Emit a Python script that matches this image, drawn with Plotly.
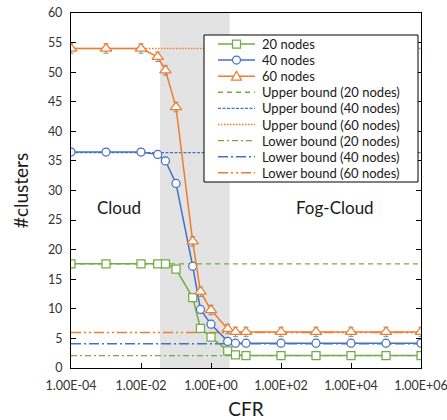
import plotly.graph_objects as go

# ---- data ----
CFR = [1e-4, 1e-3, 1e-2, 0.03, 0.05, 0.1, 0.3, 0.5, 1, 3, 5, 10, 1e2, 1e3, 1e4, 1e5, 1e6]
NODES_20 = [17.6, 17.6, 17.6, 17.6, 17.6, 16.7, 11.9, 6.7, 5.2, 2.9, 2.2, 2.1, 2.1, 2.1, 2.1, 2.1, 2.1]
NODES_40 = [36.5, 36.5, 36.5, 36.1, 35.0, 31.2, 17.2, 9.9, 7.4, 4.5, 4.2, 4.2, 4.2, 4.2, 4.2, 4.2, 4.2]
NODES_60 = [54.0, 54.0, 54.0, 52.6, 50.3, 44.1, 21.4, 12.9, 9.8, 6.6, 6.1, 6.1, 6.1, 6.1, 6.1, 6.1, 6.1]
ERR_20 = [0.2] * 17
ERR_40 = [0.6] * 17
ERR_60 = [0.8] * 17
UPPER = {"20": 17.6, "40": 36.4, "60": 54.0}
LOWER = {"20": 2.1, "40": 4.1, "60": 6.0}
BOUND_X = [1e-4, 1e6]
SHADE_X = [0.035, 3.4]
Y_RANGE = [0, 60]
XTICK_VALS = [1e-4, 1e-2, 1, 1e2, 1e4, 1e6]
XTICK_TEXT = ["1.00E-04", "1.00E-02", "1.00E+00", "1.00E+02", "1.00E+04", "1.00E+06"]
LEGEND_LABELS = ["20 nodes", "40 nodes", "60 nodes",
                 "Upper bound (20 nodes)", "Upper bound (40 nodes)", "Upper bound (60 nodes)",
                 "Lower bound (20 nodes)", "Lower bound (40 nodes)", "Lower bound (60 nodes)"]

GREEN = "#70AD47"
BLUE = "#4472C4"
ORANGE = "#ED7D31"
FONT = "Lato"
TXT = "#1a1a1a"

# plot-area geometry (pixels)
L, R, T, B = 71, 421, 13, 368
W_FIG, H_FIG = 447, 420
PW, PH = R - L, B - T


def px(xp):
    return (xp - L) / PW


def py(yp):
    return (B - yp) / PH


fig = go.Figure()

# shaded transition region
fig.add_trace(go.Scatter(
    x=[SHADE_X[0], SHADE_X[1], SHADE_X[1], SHADE_X[0]],
    y=[Y_RANGE[0], Y_RANGE[0], Y_RANGE[1], Y_RANGE[1]],
    fill="toself", fillcolor="#E3E3E3", line=dict(width=0),
    mode="lines", showlegend=False, hoverinfo="skip"))

colors = {"20": GREEN, "40": BLUE, "60": ORANGE}
upper_dash = {"20": "5px,4px", "40": "3px,1.5px", "60": "1.5px,1.5px"}
lower_dash = {"20": "6px,3px,2px,3px", "40": "10px,3px,2px,3px", "60": "10px,3px,2px,3px,2px,3px"}

for n in ["20", "40", "60"]:
    fig.add_trace(go.Scatter(
        x=BOUND_X, y=[UPPER[n]] * 2, mode="lines", name=f"Upper bound ({n} nodes)",
        line=dict(color=colors[n], width=1.4, dash=upper_dash[n])))
for n in ["20", "40", "60"]:
    fig.add_trace(go.Scatter(
        x=BOUND_X, y=[LOWER[n]] * 2, mode="lines", name=f"Lower bound ({n} nodes)",
        line=dict(color=colors[n], width=1.4, dash=lower_dash[n])))

series = [("20 nodes", NODES_20, ERR_20, GREEN, "square", 8),
          ("40 nodes", NODES_40, ERR_40, BLUE, "circle", 8),
          ("60 nodes", NODES_60, ERR_60, ORANGE, "triangle-up", 10)]
for name, ys, err, col, sym, size in series:
    fig.add_trace(go.Scatter(
        x=CFR, y=ys, name=name, mode="lines+markers",
        line=dict(color=col, width=1.5),
        marker=dict(symbol=sym, size=size, color="white", line=dict(color=col, width=1.25)),
        error_y=dict(type="data", array=err, visible=True, color="#8C8C8C", thickness=1, width=2.5)))

# ---- legend box drawn as shapes / annotations ----
shapes = [dict(type="rect", xref="paper", yref="paper", layer="above",
               x0=px(204), x1=px(418), y0=py(182), y1=py(35),
               line=dict(color="black", width=1), fillcolor="white")]
annos = []
row_col = [GREEN, BLUE, ORANGE, GREEN, BLUE, ORANGE, GREEN, BLUE, ORANGE]
row_dash = ["solid", "solid", "solid",
            upper_dash["20"], upper_dash["40"], upper_dash["60"],
            lower_dash["20"], lower_dash["40"], lower_dash["60"]]
x_a, x_b, x_m = 218, 255, 236.5
for i, lab in enumerate(LEGEND_LABELS):
    yc = 44 + i * 16.1
    shapes.append(dict(type="line", xref="paper", yref="paper", layer="above",
                       x0=px(x_a), x1=px(x_b), y0=py(yc), y1=py(yc),
                       line=dict(color=row_col[i], width=1.5 if i < 3 else 1.4, dash=row_dash[i])))
    if i == 0:
        shapes.append(dict(type="rect", xref="paper", yref="paper", layer="above",
                           x0=px(x_m - 4), x1=px(x_m + 4), y0=py(yc + 4), y1=py(yc - 4),
                           line=dict(color=GREEN, width=1.25), fillcolor="white"))
    elif i == 1:
        shapes.append(dict(type="circle", xref="paper", yref="paper", layer="above",
                           x0=px(x_m - 4), x1=px(x_m + 4), y0=py(yc + 4), y1=py(yc - 4),
                           line=dict(color=BLUE, width=1.25), fillcolor="white"))
    elif i == 2:
        p = (f"M {px(x_m - 5):.5f},{py(yc + 4):.5f} L {px(x_m + 5):.5f},{py(yc + 4):.5f} "
             f"L {px(x_m):.5f},{py(yc - 5):.5f} Z")
        shapes.append(dict(type="path", xref="paper", yref="paper", layer="above", path=p,
                           line=dict(color=ORANGE, width=1.25), fillcolor="white"))
    annos.append(dict(x=px(260), y=py(yc), xref="paper", yref="paper", text=lab,
                      showarrow=False, xanchor="left", yanchor="middle",
                      font=dict(family=FONT, size=13, color=TXT)))

annos.append(dict(x=-2.63, y=27.2, xref="x", yref="y", text="Cloud", showarrow=False,
                  font=dict(family=FONT, size=17, color=TXT)))
annos.append(dict(x=3.54, y=27.2, xref="x", yref="y", text="Fog-Cloud", showarrow=False,
                  font=dict(family=FONT, size=17, color=TXT)))

fig.update_xaxes(
    type="log", range=[-4, 6], tickvals=XTICK_VALS, ticktext=XTICK_TEXT,
    ticks="inside", ticklen=5, tickcolor="black", automargin=False,
    showline=True, linecolor="black", linewidth=1.25, mirror=True,
    showgrid=False, zeroline=False, ticklabelstandoff=6, ticklabeloverflow="allow",
    tickfont=dict(family=FONT, size=12.5, color="#333333"),
    title=dict(text="CFR", font=dict(family=FONT, size=19, color=TXT), standoff=12))
fig.update_yaxes(
    range=Y_RANGE, dtick=5, ticks="inside", ticklen=5, tickcolor="black", automargin=False,
    showline=True, linecolor="black", linewidth=1.25, mirror="ticks",
    showgrid=False, zeroline=False, ticklabelstandoff=5,
    tickfont=dict(family=FONT, size=12.5, color="#333333"),
    title=dict(text="#clusters", font=dict(family=FONT, size=19, color=TXT), standoff=14))

fig.update_layout(
    width=W_FIG, height=H_FIG,
    margin=dict(l=L, r=W_FIG - R, t=T, b=H_FIG - B, autoexpand=False),
    paper_bgcolor="white", plot_bgcolor="white",
    showlegend=False,
    shapes=shapes, annotations=annos,
)

fig.write_html("out.html", config={"displayModeBar": False},
               post_script="document.body.style.margin='0';document.body.style.padding='0';")
